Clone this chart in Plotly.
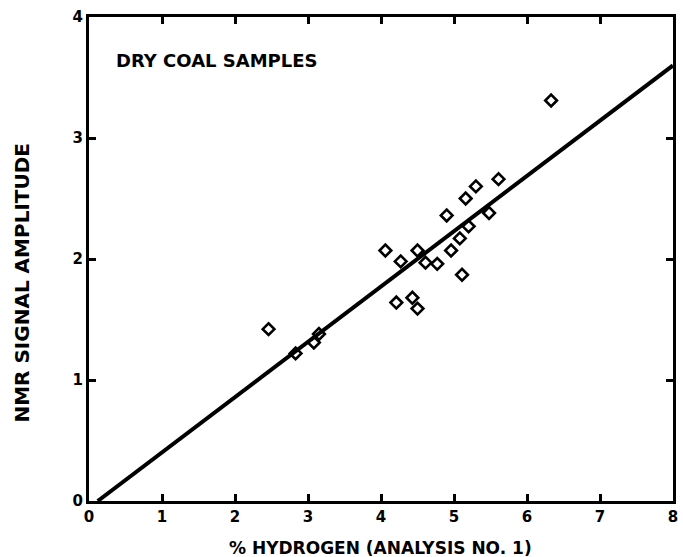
import plotly.graph_objects as go

hydrogen = [2.46, 2.83, 3.08, 3.15, 4.06, 4.27, 4.21, 4.43, 4.50, 4.50, 4.61, 4.77,
            4.90, 4.96, 5.08, 5.11, 5.16, 5.20, 5.30, 5.48, 5.61, 6.33]
amplitude = [1.42, 1.22, 1.31, 1.38, 2.07, 1.98, 1.64, 1.68, 1.59, 2.07, 1.97, 1.96,
             2.36, 2.07, 2.17, 1.87, 2.50, 2.27, 2.60, 2.38, 2.66, 3.31]
fit_x = [0.12, 8.0]
fit_y = [0.0, 3.60]
x_ticks = [0, 1, 2, 3, 4, 5, 6, 7, 8]
y_ticks = [0, 1, 2, 3, 4]

FONT = "DejaVu Sans"

fig = go.Figure()
fig.add_trace(go.Scatter(x=fit_x, y=fit_y, mode="lines",
                         line=dict(color="black", width=4), showlegend=False,
                         hoverinfo="skip"))
fig.add_trace(go.Scatter(x=hydrogen, y=amplitude, mode="markers",
                         marker=dict(symbol="diamond-open", size=9, color="black",
                                     line=dict(width=2.6, color="black")),
                         showlegend=False))

axis_common = dict(showgrid=False, zeroline=False, showline=True, linecolor="black",
                   linewidth=3, mirror="ticks", ticks="inside", ticklen=7, tickwidth=2.5,
                   tickcolor="black",
                   tickfont=dict(family=FONT, size=15, color="black", weight="bold"))

fig.update_xaxes(range=[0, 8], tickvals=x_ticks, **axis_common)
fig.update_yaxes(range=[0, 4], tickvals=y_ticks, **axis_common)

fig.add_annotation(x=0.042, y=0.911, xref="paper", yref="paper", xanchor="left",
                   yanchor="middle", showarrow=False, text="DRY COAL SAMPLES",
                   font=dict(family=FONT, size=18, color="black", weight="bold"))
fig.add_annotation(x=(383 - 89) / 589, y=(501 - 548) / 484, xref="paper", yref="paper",
                   xanchor="center", yanchor="middle", showarrow=False,
                   text="% HYDROGEN (ANALYSIS NO. 1)",
                   font=dict(family=FONT, size=17, color="black", weight="bold"))
fig.add_annotation(x=(21 - 89) / 589, y=(501 - 283) / 484, xref="paper", yref="paper",
                   xanchor="center", yanchor="middle", showarrow=False, textangle=-90,
                   text="NMR SIGNAL AMPLITUDE",
                   font=dict(family=FONT, size=20, color="black", weight="bold"))

fig.update_layout(width=683, height=557, plot_bgcolor="white", paper_bgcolor="white",
                  margin=dict(l=89, r=5, t=17, b=56))

fig.write_html("out.html")
